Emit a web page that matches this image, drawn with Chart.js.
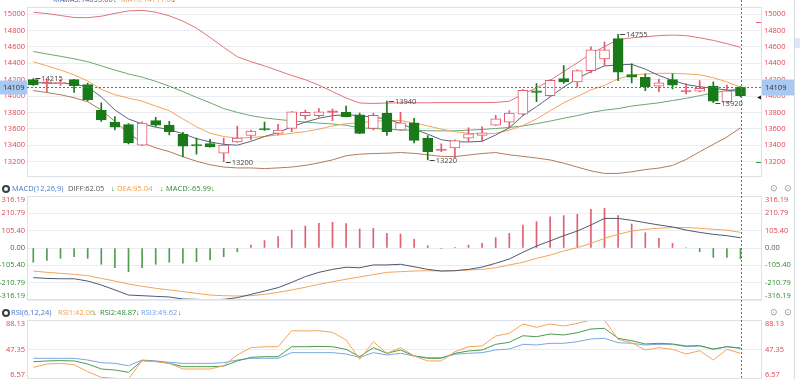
<!DOCTYPE html>
<html>
<head>
<meta charset="utf-8">
<script src="https://cdn.jsdelivr.net/npm/chart.js@4.4.0/dist/chart.umd.min.js"></script>
<style>
  html, body { margin: 0; padding: 0; background: #fff; overflow: hidden; }
  #wrap { position: relative; width: 800px; height: 379px; font-family: "Open Sans", "Noto Sans", sans-serif; }
  canvas { position: absolute; left: 0; }
  .t { position: absolute; font-size: 7.5px; line-height: 10px; white-space: nowrap; z-index: 5; }
  .ico { position: absolute; width: 4px; height: 4px; border: 2px solid #3a3f48; border-radius: 50%; z-index: 5; }
  .cog { position: absolute; font-size: 9px; color: #8a8f98; z-index: 5; line-height: 10px; }
  .dn { color: #2f8a2f; font-weight: bold; }
</style>
</head>
<body>
<div id="wrap">
  <canvas id="kline" width="800" height="188" style="top:0"></canvas>
  <canvas id="macd" width="800" height="124" style="top:188px"></canvas>
  <canvas id="rsi" width="800" height="67" style="top:312px"></canvas>

  <!-- header of the price panel (cut at the top edge) -->
  <span class="t" style="left:53px;top:-6px;color:#4a78c8">MA</span>
  <span class="t" style="left:63px;top:-6px;color:#4a5a7a">MA5:14055.00</span>
  <span class="t dn" style="left:113px;top:-6px">↓</span>
  <span class="t" style="left:121px;top:-6px;color:#f0a050">MA10:14111.00</span>
  <span class="t dn" style="left:172px;top:-6px">↓</span>

  <!-- MACD header -->
  <div class="ico" style="left:2px;top:185px"></div>
  <span class="t" style="left:12px;top:183px;color:#4a78c8">MACD(12,26,9)</span>
  <span class="t" style="left:68px;top:183px;color:#555">DIFF:62.05</span>
  <span class="t dn" style="left:111px;top:183px">↓</span>
  <span class="t" style="left:117px;top:183px;color:#f0a050">DEA:95.04</span>
  <span class="t dn" style="left:160px;top:183px">↓</span>
  <span class="t" style="left:166px;top:183px;color:#2f8a2f">MACD:-65.99</span>
  <span class="t dn" style="left:211px;top:183px">↓</span>
  <span class="cog" style="left:770px;top:183px">⊙</span>
  <span class="cog" style="left:784px;top:183px">⊙</span>

  <!-- RSI header -->
  <div class="ico" style="left:2px;top:309px"></div>
  <span class="t" style="left:11px;top:307px;color:#4a78c8">RSI(6,12,24)</span>
  <span class="t" style="left:58px;top:307px;color:#f0a050">RSI1:42.06</span>
  <span class="t dn" style="left:93px;top:307px">↓</span>
  <span class="t" style="left:100px;top:307px;color:#2f8a2f">RSI2:48.87</span>
  <span class="t dn" style="left:136px;top:307px">↓</span>
  <span class="t" style="left:141px;top:307px;color:#6d9de0">RSI3:49.62</span>
  <span class="t dn" style="left:178px;top:307px">↓</span>
  <span class="cog" style="left:770px;top:307px">⊙</span>
  <span class="cog" style="left:784px;top:307px">⊙</span>

  <div style="position:absolute;left:794px;top:0;width:1px;height:379px;background:#d5d9e0"></div>
  <div style="position:absolute;left:795px;top:38px;width:5px;height:10px;background:#dbe8fa"></div>
</div>

<script>
// ===== 数据 =====
const opens  = [14200,14155,14150,14200,14141,13827,13682,13651,13400,13700,13644,13533,13400,13420,13302,13439,13518,13592,13545,13604,13761,13761,13800,13800,13771,13604,13792,13585,13674,13486,13335,13365,13486,13518,13644,13682,13780,14065,14004,14212,14173,14310,14453,14702,14262,14229,14121,14200,14050,14059,14121,13929,14109];
const highs  = [14215,14195,14200,14205,14160,13918,13749,13663,13686,13741,13690,13557,13486,13470,13488,13632,13585,13682,13655,13810,13830,13847,13840,13879,13792,13792,13940,13800,13729,13518,13415,13465,13612,13624,13765,13820,14080,14153,14200,14373,14320,14600,14659,14755,14394,14271,14206,14271,14153,14188,14173,14133,14115];
const lows   = [14130,14055,14130,14043,13940,13690,13585,13415,13395,13630,13526,13259,13290,13375,13200,13435,13467,13580,13526,13565,13718,13741,13700,13745,13540,13585,13518,13580,13427,13220,13320,13247,13447,13455,13640,13612,13761,13930,13996,14153,14109,14282,14368,14188,14161,14065,14055,14086,14027,14050,13920,13920,13990];
const closes = [14137,14165,14165,14126,13956,13709,13620,13427,13671,13644,13565,13388,13390,13380,13400,13486,13573,13585,13585,13806,13800,13808,13808,13749,13545,13765,13565,13674,13459,13321,13343,13455,13538,13550,13721,13792,14071,14045,14192,14173,14310,14565,14565,14291,14232,14114,14161,14133,14056,14094,13938,14065,14004];

const ma5   = [14165,14160,14155,14150,14110,13990,13830,13720,13660,13620,13590,13540,13480,13440,13410,13400,13447,13506,13553,13624,13682,13729,13761,13772,13761,13741,13721,13665,13595,13535,13467,13443,13439,13447,13525,13612,13761,13870,13990,14110,14212,14300,14368,14380,14388,14329,14251,14192,14141,14114,14094,14074,14055];
const ma10  = [14420,14369,14318,14259,14184,14082,14016,13976,13937,13878,13820,13721,13624,13545,13506,13486,13494,13506,13525,13545,13565,13596,13635,13663,13674,13690,13702,13702,13670,13635,13596,13565,13545,13537,13545,13584,13640,13720,13820,13918,13996,14075,14130,14212,14251,14271,14278,14278,14271,14259,14224,14173,14111];
const bollMid = [14545,14514,14486,14455,14420,14369,14318,14270,14231,14180,14121,14055,13984,13918,13847,13800,13761,13733,13714,13698,13682,13670,13659,13643,13612,13604,13596,13584,13584,13576,13574,13576,13584,13592,13604,13616,13635,13663,13694,13729,13761,13800,13827,13847,13878,13898,13918,13945,13972,14005,14040,14065,14095];
const bollUp  = [15023,15008,14984,14960,14957,14975,15010,15040,15047,15025,14980,14915,14830,14715,14595,14480,14420,14369,14310,14251,14200,14133,14055,13976,13915,13910,13915,13918,13918,13918,13920,13920,13920,13920,13922,13937,14025,14100,14190,14300,14405,14520,14605,14690,14712,14725,14738,14745,14738,14712,14680,14640,14595];
const bollLow = [14067,14043,14016,13980,13930,13830,13690,13545,13430,13368,13321,13259,13204,13161,13133,13122,13122,13114,13122,13133,13153,13184,13220,13271,13290,13298,13302,13310,13300,13282,13263,13260,13280,13298,13310,13282,13263,13243,13220,13180,13133,13086,13055,13055,13075,13102,13120,13153,13225,13320,13410,13500,13612];

const macdBar = [-87,-75,-63,-53,-63,-99,-120,-144,-120,-99,-87,-93,-83,-73,-53,-22,18,45,69,109,134,150,156,148,116,120,89,85,53,14,-3,2,18,28,63,89,140,160,190,197,205,235,241,197,146,93,59,28,3,-22,-57,-57,-65.99];
const diff    = [-180,-185,-187,-187,-201,-225,-255,-286,-290,-294,-298,-310,-312,-316.19,-312,-302,-282,-262,-241,-209,-174,-148,-130,-117,-120,-103,-103,-99,-114,-130,-140,-138,-130,-116,-93,-67,-26,12,43,75,103,140,180,180,168,154,140,128,109,95,83,75,62.05];
const dea     = [-140,-148,-154,-160,-168,-185,-201,-219,-233,-245,-255,-265,-276,-286,-290,-292,-290,-282,-270,-255,-239,-221,-205,-190,-176,-162,-148,-144,-140,-138,-140,-138,-134,-130,-120,-103,-87,-63,-43,-18,2,28,59,83,103,114,120,124,124,120,114,108,95.04];

const rsi1 = [22.7,27.3,28.2,26.3,16.7,8.9,7.5,6.57,31.9,30.5,28.2,20.4,20.4,20.4,24.9,39.8,49.9,51.2,51.2,73.3,73.0,73.3,71.1,60.5,33.8,58.1,42.1,49.9,38.4,31.5,31.5,44.3,51.2,52.2,66.0,69.7,82.6,78.0,82.6,79.8,83.5,88.13,88.1,61.4,56.8,46.7,49.9,47.6,41.1,45.7,32.8,47.6,42.06];
const rsi2 = [30.5,31.5,32.0,31.5,27.3,20.4,19.0,15.8,31.9,31.0,28.2,23.6,23.6,23.6,24.4,31.5,36.5,37.4,37.4,51.2,51.2,51.6,51.2,47.6,37.4,49.9,42.1,46.7,38.4,35.2,35.2,42.1,45.3,46.7,54.5,57.3,66.4,65.0,68.8,67.4,70.6,75.7,76.6,62.8,59.5,55.0,55.9,55.0,52.2,52.7,47.6,51.2,48.87];
const rsi3 = [35.2,35.2,35.2,35.2,32.8,29.1,28.2,24.9,32.8,31.5,29.6,28.2,28.2,28.2,29.1,32.8,35.2,35.2,35.2,43.0,43.0,43.0,43.0,41.1,36.5,43.0,39.8,42.1,38.4,36.0,36.0,40.7,42.1,43.0,46.7,48.0,54.5,53.6,55.9,55.9,58.1,61.9,62.8,56.8,55.9,53.6,54.5,54.5,51.2,52.2,48.0,51.2,49.62];

const priceTicks = [15000,14800,14600,14400,14200,14000,13800,13600,13400,13200];
const macdTicks  = [316.19,210.79,105.40,0,-105.40,-210.79,-316.19];
const rsiTicks   = [88.13,47.35,6.57];

// 最高/最低 标记
const marks = [[0,'H'],[14,'L'],[26,'H'],[29,'L'],[43,'H'],[50,'L']];
const crossIndex = 52;
const crossPrice = 14109;

// ===== 样式 =====
const RED = '#e4596b', GREEN = '#1a7a1a';
const AXIS_RED = '#e04450', AXIS_GREEN = '#2f8a2f';
const GRID = '#e9ecf2';
const FONT = { family: '"Open Sans", "Noto Sans", sans-serif', size: 7.5 };
const FONT_CSS = '7.5px "Open Sans", "Noto Sans", sans-serif';
const X_MIN = -0.463, X_MAX = 53.58;

const idx = opens.map((_, i) => i);
const pts = arr => arr.map((v, i) => ({ x: i, y: v }));
const isUp = i => closes[i] >= opens[i];
const candleColor = idx.map(i => isUp(i) ? RED : GREEN);
const bodyFill = idx.map(i => isUp(i) ? (Math.abs(closes[i] - opens[i]) < 15 ? RED : '#ffffff') : GREEN);

const line = (data, color, order) => ({
    type: 'line', data: pts(data), borderColor: color, borderWidth: 1,
    pointRadius: 0, tension: 0, order
});

const xScale = { type: 'linear', min: X_MIN, max: X_MAX, offset: false, display: false };

// labelsInside: 副图的刻度文字自己画, 边上的压到框内
function yAxes(min, max, ticksArr, color, fmt, labelsInside) {
    const base = {
        min, max, beginAtZero: false,
        afterBuildTicks: s => { s.ticks = ticksArr.map(v => ({ value: v })); },
        ticks: { display: !labelsInside, color, font: FONT, padding: 2, callback: fmt },
        border: { display: false }
    };
    return {
        y: { ...base, position: 'left', grid: { color: GRID, drawTicks: false },
             afterFit: s => { s.width = 27; } },
        y2: { ...base, position: 'right', grid: { display: false, drawTicks: false },
              afterFit: s => { s.width = 38; } }
    };
}

const insideLabels = (fmt, colorOf) => ({
    id: 'insideLabels',
    afterDraw(chart) {
        const { ctx, chartArea: a } = chart;
        const s = chart.scales.y;
        ctx.save();
        ctx.font = FONT_CSS;
        ctx.textBaseline = 'middle';
        s.ticks.forEach(t => {
            let py = s.getPixelForValue(t.value);
            py = Math.min(Math.max(py, a.top + 4), a.bottom - 4);
            ctx.fillStyle = colorOf(t.value);
            ctx.textAlign = 'right';
            ctx.fillText(fmt(t.value), a.left - 2, py);
            ctx.textAlign = 'left';
            ctx.fillText(fmt(t.value), a.right + 3, py);
        });
        ctx.restore();
    }
});

// 边框 + 十字线
const framePlugin = {
    id: 'frame',
    afterDraw(chart) {
        const { ctx, chartArea: a } = chart;
        ctx.save();
        ctx.strokeStyle = '#dde2ea';
        ctx.lineWidth = 1;
        ctx.strokeRect(Math.round(a.left) + 0.5, Math.round(a.top) + 0.5, Math.round(a.width) - 1, Math.round(a.height) - 1);
        const x = Math.round(chart.scales.x.getPixelForValue(crossIndex)) + 0.5;
        ctx.strokeStyle = '#6a6f78';
        ctx.setLineDash([2, 2]);
        ctx.beginPath();
        ctx.moveTo(x, 0);
        ctx.lineTo(x, chart.height);
        ctx.stroke();
        ctx.restore();
    }
};

const klinePlugin = {
    id: 'klineExtra',
    afterDraw(chart) {
        const { ctx, chartArea: a, scales: { x, y } } = chart;
        ctx.save();
        ctx.font = FONT_CSS;
        ctx.textBaseline = 'middle';
        // 最高最低
        marks.forEach(([i, k]) => {
            const v = k === 'H' ? highs[i] : lows[i];
            const px = x.getPixelForValue(i), py = Math.round(y.getPixelForValue(v)) + 0.5;
            ctx.strokeStyle = '#444';
            ctx.beginPath();
            ctx.moveTo(px + 2, py);
            ctx.lineTo(px + 7, py);
            ctx.stroke();
            ctx.fillStyle = '#444';
            ctx.fillText(String(v), px + 8, py);
        });
        // 十字线横线
        const cy = Math.round(y.getPixelForValue(crossPrice)) + 0.5;
        ctx.strokeStyle = '#6a6f78';
        ctx.setLineDash([2, 2]);
        ctx.beginPath();
        ctx.moveTo(a.left, cy);
        ctx.lineTo(a.right, cy);
        ctx.stroke();
        ctx.setLineDash([]);
        ctx.fillStyle = '#a9c9f3';
        ctx.fillRect(0, cy - 7, 27, 14);
        ctx.fillRect(a.right, cy - 8, 33, 16);
        ctx.fillStyle = '#333';
        ctx.fillText(String(crossPrice), 3, cy);
        ctx.fillText(String(crossPrice), a.right + 3, cy);
        // 右侧小标记
        ctx.fillStyle = RED;
        ctx.fillRect(a.right - 6, Math.round(y.getPixelForValue(14906)), 5, 1);
        ctx.fillStyle = '#3a9a3a';
        ctx.fillRect(a.right - 6, Math.round(y.getPixelForValue(13200)), 5, 1);
        ctx.fillStyle = '#222';
        ctx.beginPath();
        ctx.moveTo(a.right - 5, cy + 10);
        ctx.lineTo(a.right - 1, cy + 8);
        ctx.lineTo(a.right - 1, cy + 12);
        ctx.fill();
        ctx.restore();
    }
};

// ===== K线图 =====
new Chart(document.getElementById('kline'), {
    type: 'bar',
    data: {
        datasets: [
            {
                data: idx.map(i => ({ x: i, y: [opens[i], closes[i]] })),
                backgroundColor: bodyFill, borderColor: candleColor, borderWidth: 1,
                borderSkipped: false, barThickness: 10, minBarLength: 1.5, grouped: false, order: 1
            },
            {
                data: idx.map(i => ({ x: i, y: [Math.max(opens[i], closes[i]), highs[i]] })),
                backgroundColor: candleColor, barThickness: 1, grouped: false, order: 2
            },
            {
                data: idx.map(i => ({ x: i, y: [lows[i], Math.min(opens[i], closes[i])] })),
                backgroundColor: candleColor, barThickness: 1, grouped: false, order: 2
            },
            line(ma5, '#5a6378', 3),
            line(ma10, '#f2a55a', 3),
            line(bollMid, '#6ea66e', 3),
            line(bollUp, '#e4707c', 3),
            line(bollLow, '#b27b5c', 3)
        ]
    },
    options: {
        responsive: false,
        animation: false,
        layout: { padding: { top: 0, bottom: 12, left: 0, right: 0 } },
        plugins: { legend: { display: false }, tooltip: { enabled: false } },
        scales: { x: xScale, ...yAxes(13023.5, 15094, priceTicks, AXIS_RED, v => String(v), false) }
    },
    plugins: [framePlugin, klinePlugin]
});

// ===== MACD =====
const macdFmt = v => v.toFixed(2);
const macdColor = v => v > 0 ? AXIS_RED : v < 0 ? AXIS_GREEN : '#555';
new Chart(document.getElementById('macd'), {
    type: 'bar',
    data: {
        datasets: [
            {
                data: pts(macdBar),
                backgroundColor: macdBar.map(v => v >= 0 ? '#e0606e' : '#4f9d4f'),
                barThickness: 1, grouped: false, order: 2
            },
            line(diff, '#4f5870', 1),
            line(dea, '#f2a55a', 1)
        ]
    },
    options: {
        responsive: false,
        animation: false,
        layout: { padding: { top: 8, bottom: 12 } },
        plugins: { legend: { display: false }, tooltip: { enabled: false } },
        scales: { x: xScale, ...yAxes(-316.19, 316.19, macdTicks, AXIS_RED, macdFmt, true) }
    },
    plugins: [framePlugin, insideLabels(macdFmt, macdColor)]
});

// ===== RSI =====
const rsiFmt = v => v.toFixed(2);
new Chart(document.getElementById('rsi'), {
    type: 'line',
    data: {
        datasets: [
            line(rsi1, '#f2a55a', 1),
            line(rsi2, '#4e9a4e', 2),
            line(rsi3, '#7aa7e2', 3)
        ]
    },
    options: {
        responsive: false,
        animation: false,
        layout: { padding: { top: 8, bottom: 0 } },
        plugins: { legend: { display: false }, tooltip: { enabled: false } },
        scales: { x: xScale, ...yAxes(6.57, 88.13, rsiTicks, AXIS_RED, rsiFmt, true) }
    },
    plugins: [framePlugin, insideLabels(rsiFmt, () => AXIS_RED)]
});
</script>
</body>
</html>
